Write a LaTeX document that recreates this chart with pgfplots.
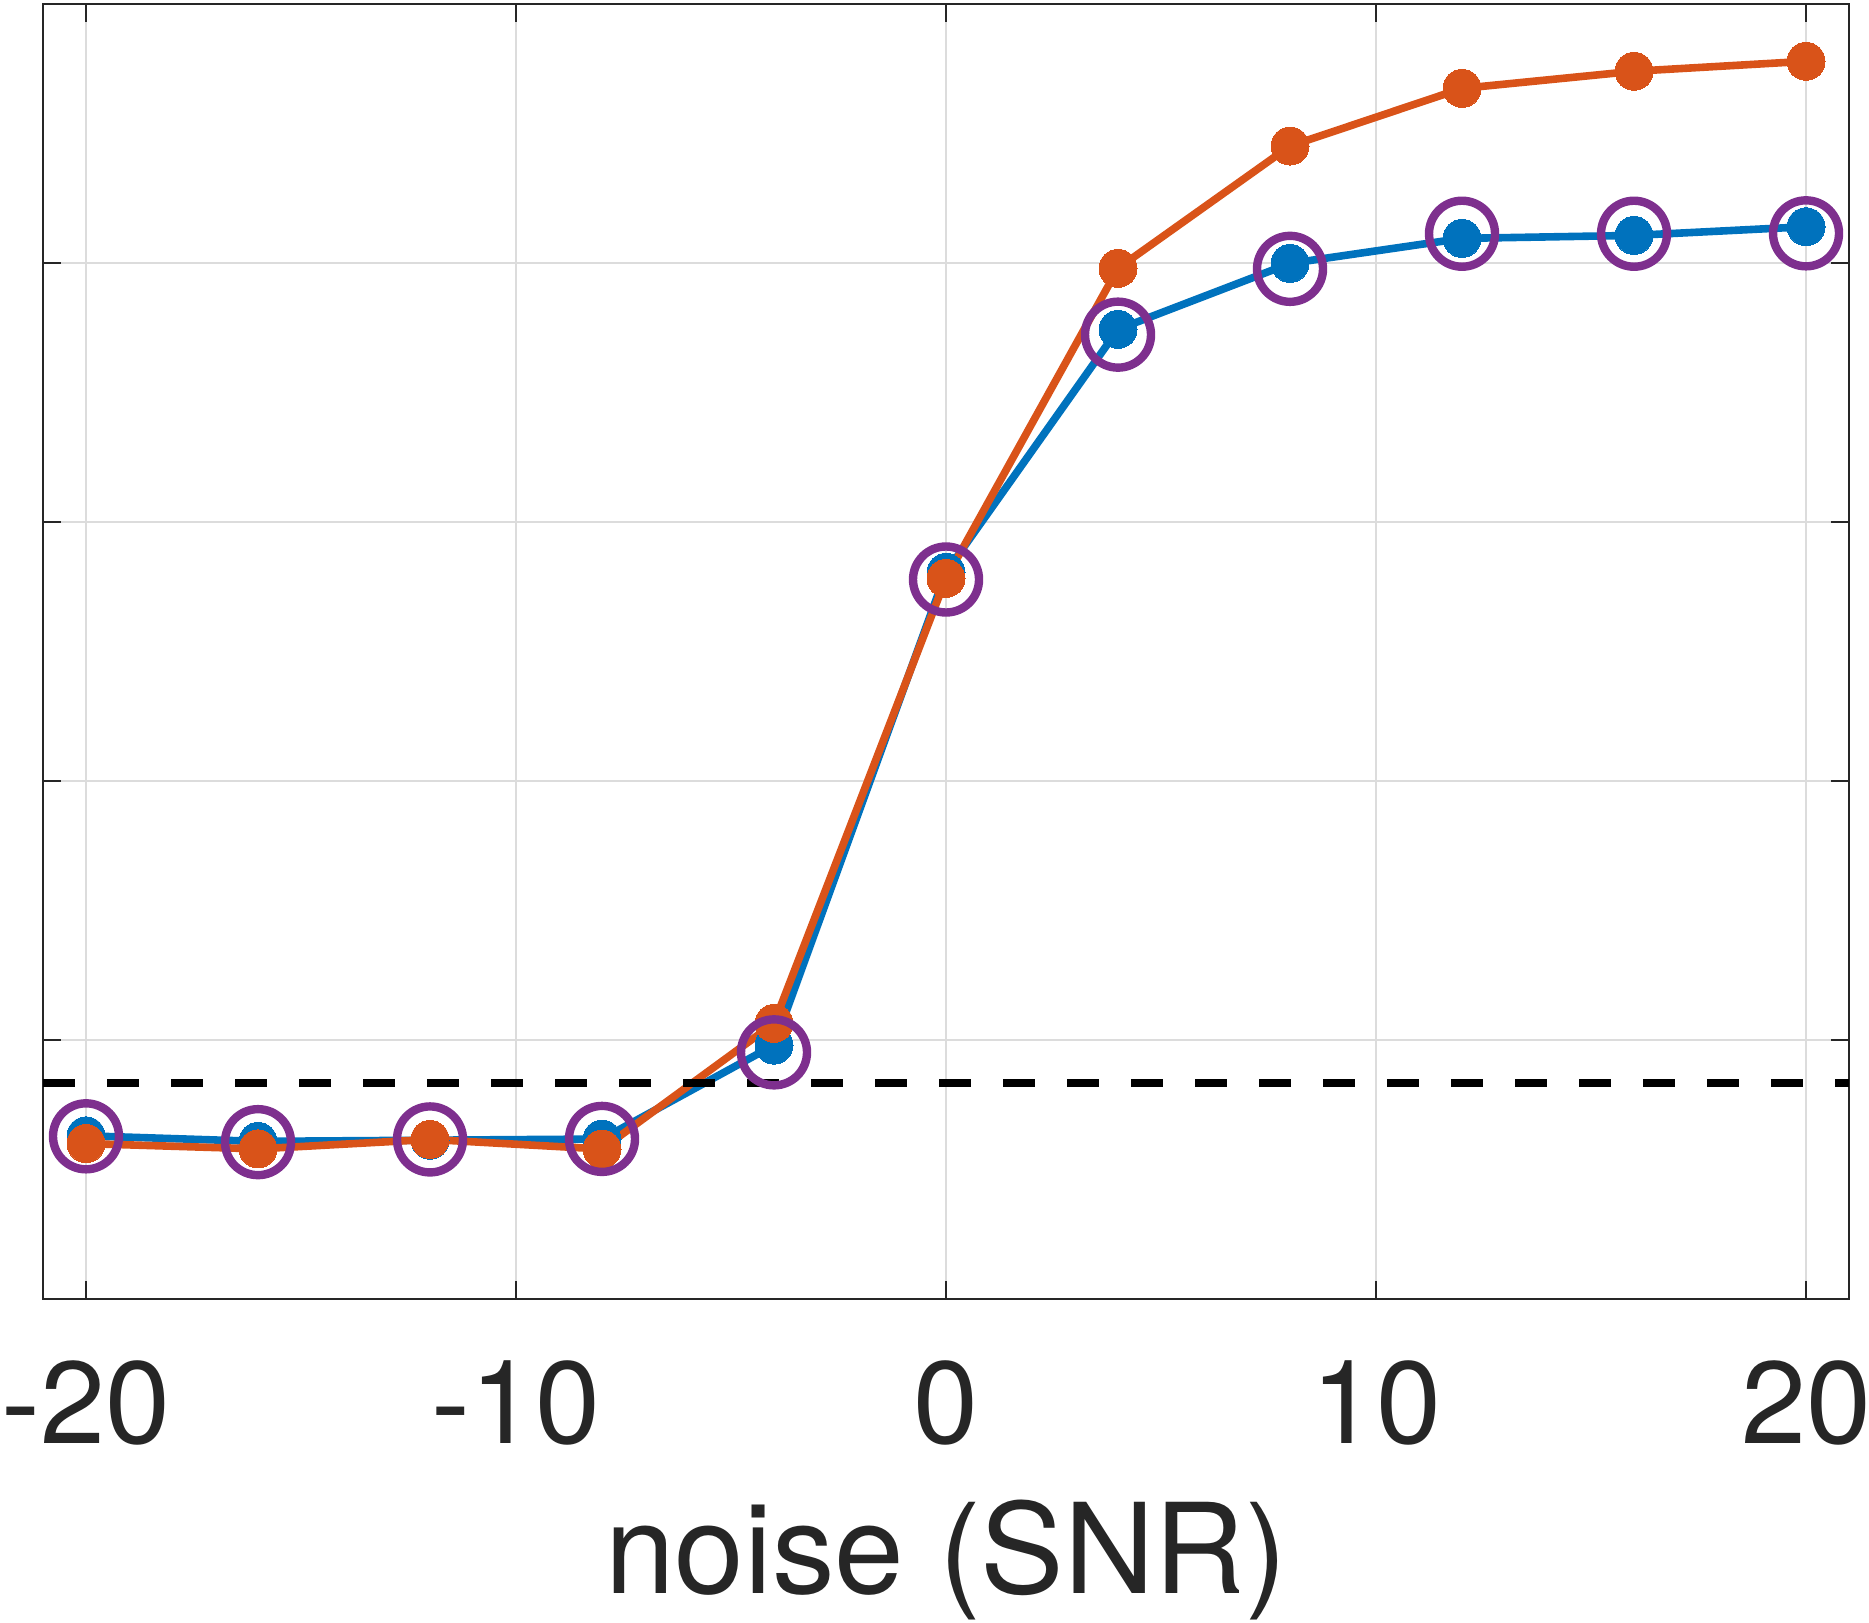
\documentclass[border=0pt]{standalone}
\usepackage{fontspec}
\setmainfont{TeX Gyre Heros}
\usepackage{pgfplots}
\pgfplotsset{compat=1.18}
\definecolor{mblue}{RGB}{0,114,189}
\definecolor{morange}{RGB}{217,83,25}
\definecolor{mpurple}{RGB}{126,47,142}
\definecolor{axgray}{RGB}{38,38,38}
\definecolor{gridgray}{RGB}{220,220,220}
\begin{document}
\begin{tikzpicture}
\begin{axis}[
  at={(0,0)}, anchor=south west,
  scale only axis, width=451.5pt, height=323.875pt,
  xmin=-21, xmax=21, ymin=0, ymax=1,
  xtick={-20,-10,0,10,20}, xticklabels={-20,-10,0,10,20},
  ytick={0,0.2,0.4,0.6,0.8,1}, yticklabels={},
  tick align=inside, major tick length=4.6pt,
  xtick pos=both, ytick pos=both,
  grid=major, major grid style={gridgray, line width=0.45pt},
  axis line style={axgray, line width=0.5pt},
  every tick/.style={axgray, line width=0.5pt},
  tick label style={font=\fontsize{29.2}{35}\selectfont, text=axgray},
  xticklabel style={anchor=base, yshift=-36pt},
  xlabel={noise (SNR)},
  xlabel style={at={(axis description cs:0.5,0)}, anchor=base, yshift=-73.5pt, font=\fontsize{31.3}{37}\selectfont, text=axgray},
]
\addplot[mblue, line width=1.9pt, mark=*, mark size=4.75pt, mark options={line width=0pt, fill=mblue, draw=mblue}] coordinates {
(-20,0.126)(-16,0.1217)(-12,0.1226)(-8,0.1235)(-4,0.196)(0,0.561)(4,0.7485)(8,0.7994)(12,0.8187)(16,0.8210)(20,0.8277)};
\addplot[morange, line width=1.9pt, mark=*, mark size=4.75pt, mark options={line width=0pt, fill=morange, draw=morange}] coordinates {
(-20,0.120)(-16,0.1159)(-12,0.1232)(-8,0.1158)(-4,0.2128)(0,0.5563)(4,0.7956)(8,0.890)(12,0.9345)(16,0.9477)(20,0.9554)};
\addplot[only marks, mpurple, mark=o, mark size=8.25pt, mark options={line width=2.1pt, draw=mpurple}] coordinates {
(-20,0.1256)(-16,0.1211)(-12,0.1232)(-8,0.1236)(-4,0.1904)(0,0.5554)(4,0.7444)(8,0.7952)(12,0.8223)(16,0.8223)(20,0.8226)};
\addplot[black, line width=2pt, dash pattern=on 8pt off 8pt] coordinates {(-21,0.167)(21,0.167)};
\end{axis}
\pgfresetboundingbox
\path[use as bounding box] (-10.75pt,-80.75pt) rectangle (456.5pt,324.75pt);
\end{tikzpicture}
\end{document}
